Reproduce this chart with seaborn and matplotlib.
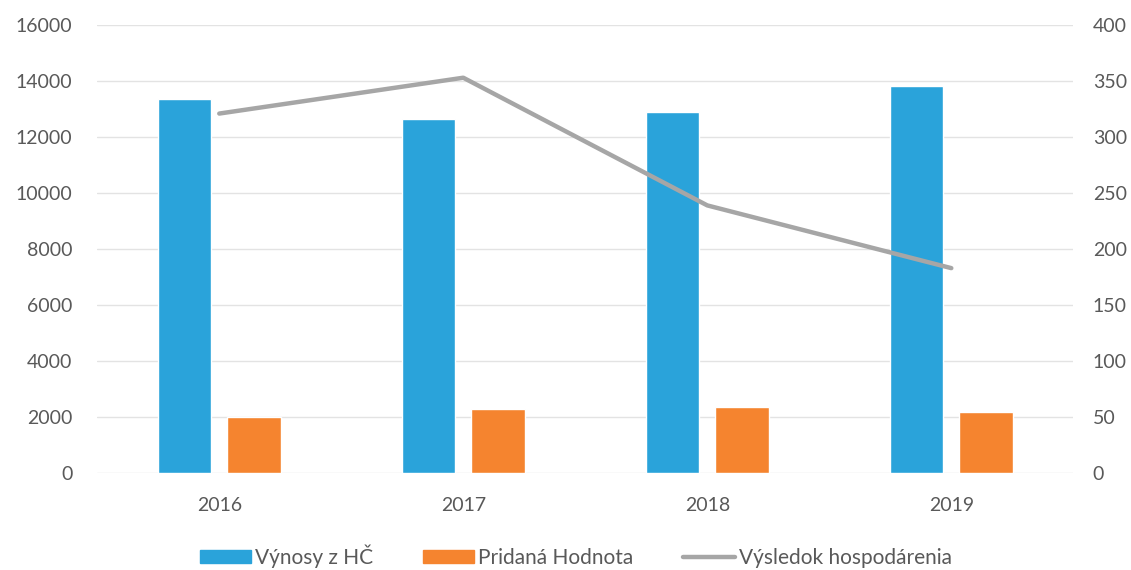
import pandas as pd
import numpy as np
import matplotlib.pyplot as plt
import seaborn as sns
from matplotlib.patches import Patch
from matplotlib.lines import Line2D

# ---------- dados ----------
roky       = ['2016', '2017', '2018', '2019']
vynosy     = [13350, 12640, 12890, 13820]      # Výnosy z HČ (ľavá os)
pridana    = [2010, 2290, 2370, 2190]          # Pridaná Hodnota (ľavá os)
vysledok   = [321, 353, 239, 183]              # Výsledok hospodárenia (pravá os)
left_ticks  = [0, 2000, 4000, 6000, 8000, 10000, 12000, 14000, 16000]
right_ticks = [0, 50, 100, 150, 200, 250, 300, 350, 400]

s_vynosy, s_pridana, s_vysledok = 'Výnosy z HČ', 'Pridaná Hodnota', 'Výsledok hospodárenia'
c_blue, c_orange, c_grey = '#2AA3DA', '#F5842F', '#A6A6A6'
c_text = '#595959'

sns.set_theme(style='white')
plt.rcParams['font.family'] = ['Lato', 'DejaVu Sans']

df = pd.DataFrame({
    'Rok':   roky * 2,
    'Hodnota': vynosy + pridana,
    'Séria': [s_vynosy] * 4 + [s_pridana] * 4,
})

fig = plt.figure(figsize=(11.31, 5.70), dpi=100)
ax = fig.add_axes([0.086, 0.170, 0.863, 0.786])

sns.barplot(data=df, x='Rok', y='Hodnota', hue='Séria',
            palette=[c_blue, c_orange], width=0.572, gap=0.23,
            saturation=1, legend=False, ax=ax)

ax2 = ax.twinx()
sns.lineplot(x=np.arange(len(roky)), y=vysledok, color=c_grey, linewidth=3.2, ax=ax2)

ax.set_xlim(-0.5, 3.5)
ax.set_ylim(0, 16000)
ax2.set_ylim(0, 400)
ax.set_yticks(left_ticks)
ax2.set_yticks(right_ticks)
ax.set_xlabel('')
ax.set_ylabel('')
ax2.set_ylabel('')
ax.grid(True, axis='y', color='#E3E3E3', linewidth=1)
ax.set_axisbelow(True)

for a in (ax, ax2):
    for sp in a.spines.values():
        sp.set_visible(False)
    a.tick_params(axis='both', length=0, labelsize=14, colors=c_text)
ax.tick_params(axis='x', pad=17)
ax.tick_params(axis='y', pad=18)
ax2.tick_params(axis='y', pad=14)

handles = [Patch(color=c_blue, label=s_vynosy),
           Patch(color=c_orange, label=s_pridana),
           Line2D([0], [0], color=c_grey, linewidth=3.2, label=s_vysledok)]
leg = fig.legend(handles=handles, loc='center', bbox_to_anchor=(0.509, 0.025),
                 ncol=3, frameon=False, fontsize=15, handlelength=2.45,
                 handleheight=0.58, handletextpad=0.2, columnspacing=2.4,
                 borderpad=0)
for t in leg.get_texts():
    t.set_color(c_text)

plt.savefig('out.png', dpi=100)
plt.close()
